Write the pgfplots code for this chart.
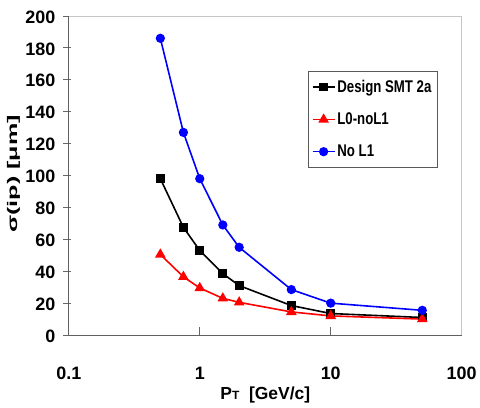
\documentclass[border=0pt]{standalone}
\usepackage{fontspec}
\setmainfont{Liberation Sans}
\newfontfamily\leg[FakeStretch=0.78]{Liberation Sans}
\newfontfamily\ylab[FakeStretch=1.8]{Liberation Sans}
\usepackage{pgfplots}
\pgfplotsset{compat=1.18}
\begin{document}
\begin{tikzpicture}
\begin{axis}[
  at={(0pt,0pt)}, anchor=south west,
  scale only axis, width=394pt, height=320pt,
  xmode=log, xmin=0.1, xmax=100, ymin=0, ymax=200,
  log basis x=10,
  xtick={0.1,1,10,100}, xticklabels={0.1,1,10,100},
  ytick={0,20,...,200},
  minor xtick={},
  xtick pos=bottom, ytick pos=left,
  tick align=inside,
  major tick length=8pt,
  major y tick style={xshift=-6pt},
  tick style={gray!80!black, line width=0.8pt},
  axis line style={gray!45, line width=0.8pt},
  /pgf/number format/assume math mode=true,
  ticklabel style={font=\fontsize{18}{18}\selectfont\bfseries},
  yticklabel style={anchor=east, xshift=-10pt, yshift=-1pt},
  xticklabel style={anchor=center, yshift=-38pt},
  xlabel={\bfseries\fontsize{17.5}{17.5}\selectfont P{\fontsize{12}{12}\selectfont T}\ \ [GeV/c]},
  xlabel style={at={([yshift=-60pt]rel axis cs:0.5,0)}, anchor=center},
  ylabel={\ylab\bfseries\fontsize{14}{14}\selectfont σ(ip) [μm]},
  ylabel style={at={([xshift=-55.5pt,yshift=1.5pt]rel axis cs:0,0.5)}, anchor=center},
  legend style={at={(rel axis cs:0.609,0.828)}, anchor=north west,
    draw=gray!70!black, line width=0.6pt, font=\leg\bfseries\fontsize{17}{17}\selectfont,
    row sep=15pt, inner ysep=7pt, inner xsep=3.5pt, legend cell align=left},
  legend image code/.code={\draw[mark repeat=2,mark phase=2] plot coordinates {(0pt,0pt) (11pt,0pt) (22pt,0pt)};},
  clip=false,
]
\addplot[black, line width=1.6pt, mark=square*, mark size=3.6pt] coordinates {
 (0.5,98) (0.75,67.5) (1,53) (1.5,38.5) (2,31) (5,18.5) (10,13.5) (50,11)};
\addlegendentry{Design SMT 2a}
\addplot[red, line width=1.6pt, mark=triangle*, mark size=4.6pt] coordinates {
 (0.5,50.5) (0.75,36.5) (1,29.5) (1.5,23) (2,20.5) (5,14.5) (10,12) (50,10)};
\addlegendentry{L0-noL1}
\addplot[blue, line width=1.6pt, mark=*, mark size=3.8pt] coordinates {
 (0.5,186) (0.75,127) (1,98) (1.5,69) (2,55) (5,28.5) (10,20) (50,15.5)};
\addlegendentry{No L1}
\draw[gray!75!black, line width=0.9pt] (rel axis cs:0,1) -- (rel axis cs:0,0) -- (rel axis cs:1,0);
\end{axis}
\path (-69pt,-73pt) rectangle (411pt,336pt);
\end{tikzpicture}
\end{document}
